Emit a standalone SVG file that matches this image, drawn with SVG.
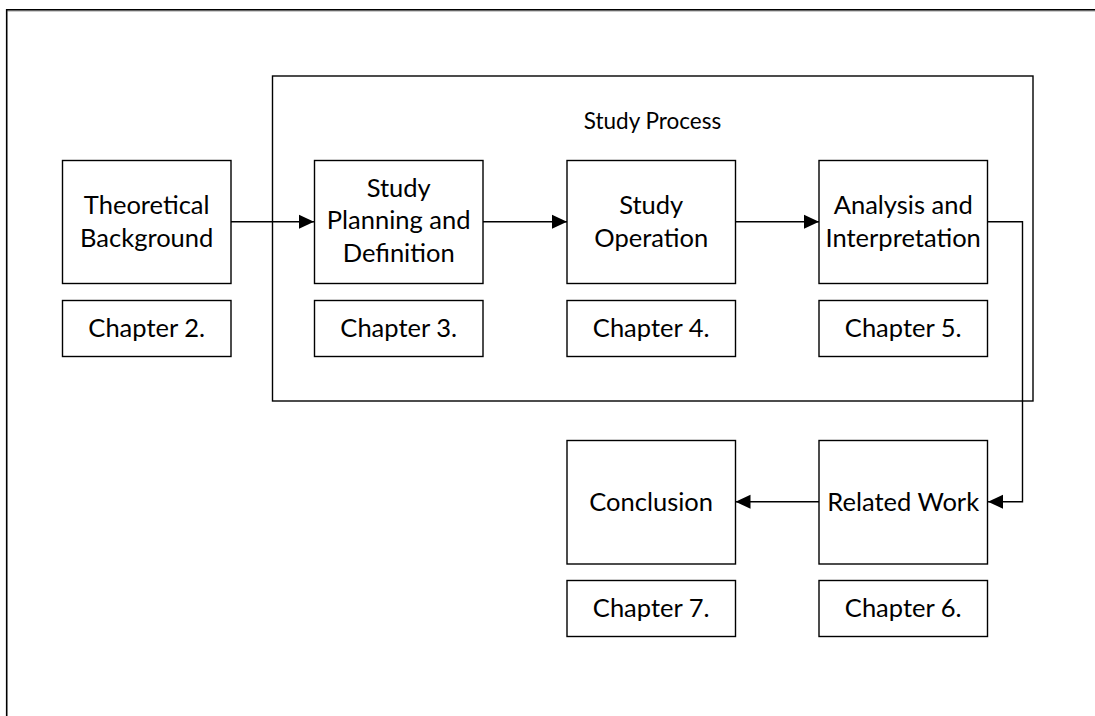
<svg xmlns="http://www.w3.org/2000/svg" width="1095" height="716" viewBox="0 0 1095 716">
  <style>
    .box { fill: #ffffff; stroke: #000000; stroke-width: 1.4; }
    .frame { fill: none; stroke: #000000; stroke-width: 1.4; }
    .edge { fill: none; stroke: #000000; stroke-width: 1.4; }
    .lbl { font-family: Lato, "Open Sans", "Liberation Sans", sans-serif; font-size: 25.5px; fill: #000000; text-anchor: middle; }
    .title { font-family: Lato, "Open Sans", "Liberation Sans", sans-serif; font-size: 22.5px; fill: #000000; text-anchor: middle; }
  </style>
  <defs>
    <marker id="arrow" markerWidth="16" markerHeight="16" refX="15" refY="8" orient="auto" markerUnits="userSpaceOnUse">
      <path d="M0,1 L15,8 L0,15 Z" fill="#000000"/>
    </marker>
  </defs>

  <rect width="1095" height="716" fill="#ffffff"/>

  <!-- page border (top and left edges) -->
  <g id="page-border">
    <path d="M7.5,11 H1095" fill="none" stroke="#9a9a9a" stroke-width="1"/>
    <path d="M6.7,716 V9.7 H1095" fill="none" stroke="#000000" stroke-width="1.6"/>
  </g>

  <!-- container -->
  <g id="study-process">
    <rect class="frame" x="272.5" y="76" width="760.5" height="325"/>
    <text class="title" x="652.5" y="128.5">Study Process</text>
  </g>

  <!-- nodes -->
  <g id="theoretical-background">
    <rect class="box" x="62.5" y="160.5" width="168.5" height="123"/>
    <text class="lbl" x="146.7" y="214.3">Theoretical</text>
    <text class="lbl" x="146.7" y="246.5">Background</text>
  </g>
  <g id="chapter-2">
    <rect class="box" x="62.5" y="300.5" width="168.5" height="56"/>
    <text class="lbl" x="146.7" y="336.7">Chapter 2.</text>
  </g>

  <g id="study-planning">
    <rect class="box" x="314.5" y="160.5" width="168.5" height="123"/>
    <text class="lbl" x="398.7" y="196.7">Study</text>
    <text class="lbl" x="398.7" y="229.3">Planning and</text>
    <text class="lbl" x="398.7" y="261.7">Definition</text>
  </g>
  <g id="chapter-3">
    <rect class="box" x="314.5" y="300.5" width="168.5" height="56"/>
    <text class="lbl" x="398.7" y="336.7">Chapter 3.</text>
  </g>

  <g id="study-operation">
    <rect class="box" x="567" y="160.5" width="168.5" height="123"/>
    <text class="lbl" x="651.2" y="214.3">Study</text>
    <text class="lbl" x="651.2" y="246.5">Operation</text>
  </g>
  <g id="chapter-4">
    <rect class="box" x="567" y="300.5" width="168.5" height="56"/>
    <text class="lbl" x="651.2" y="336.7">Chapter 4.</text>
  </g>

  <g id="analysis-interpretation">
    <rect class="box" x="819" y="160.5" width="168.5" height="123"/>
    <text class="lbl" x="903.2" y="214.3">Analysis and</text>
    <text class="lbl" x="903.2" y="246.5">Interpretation</text>
  </g>
  <g id="chapter-5">
    <rect class="box" x="819" y="300.5" width="168.5" height="56"/>
    <text class="lbl" x="903.2" y="336.7">Chapter 5.</text>
  </g>

  <g id="conclusion">
    <rect class="box" x="567" y="440.5" width="168.5" height="123.5"/>
    <text class="lbl" x="651.2" y="510.5">Conclusion</text>
  </g>
  <g id="chapter-7">
    <rect class="box" x="567" y="580.5" width="168.5" height="56"/>
    <text class="lbl" x="651.2" y="616.7">Chapter 7.</text>
  </g>

  <g id="related-work">
    <rect class="box" x="819" y="440.5" width="168.5" height="123.5"/>
    <text class="lbl" x="903.2" y="510.5">Related Work</text>
  </g>
  <g id="chapter-6">
    <rect class="box" x="819" y="580.5" width="168.5" height="56"/>
    <text class="lbl" x="903.2" y="616.7">Chapter 6.</text>
  </g>

  <!-- connectors -->
  <g id="connectors">
    <path class="edge" d="M231,221.7 H314" marker-end="url(#arrow)"/>
    <path class="edge" d="M483,221.7 H567" marker-end="url(#arrow)"/>
    <path class="edge" d="M735.5,221.7 H819" marker-end="url(#arrow)"/>
    <path class="edge" d="M987.5,221.7 H1022.5 V501.7 H988" marker-end="url(#arrow)"/>
    <path class="edge" d="M819,501.7 H735.5" marker-end="url(#arrow)"/>
  </g>
</svg>
